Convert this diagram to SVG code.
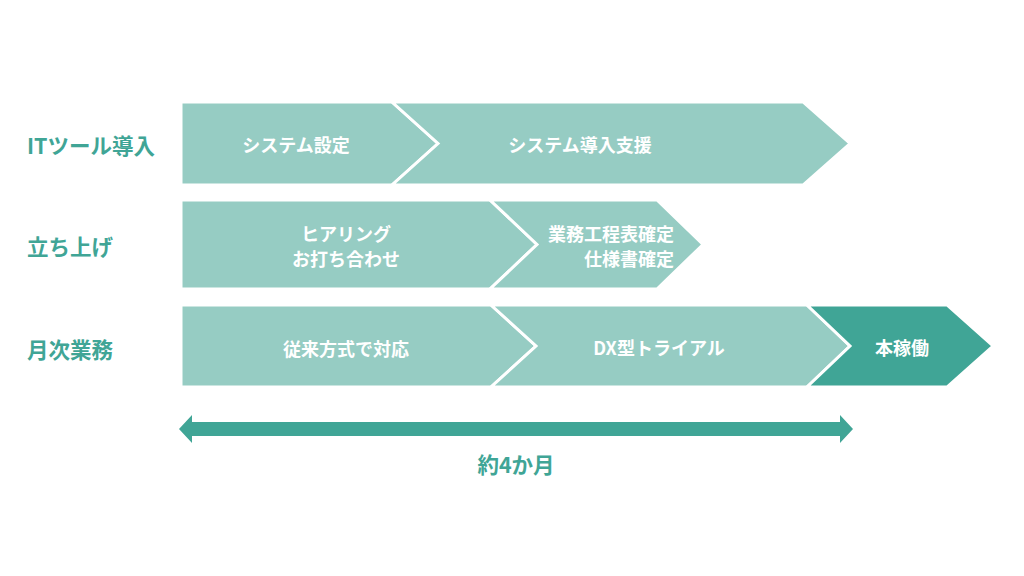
<svg xmlns="http://www.w3.org/2000/svg" width="1024" height="576" viewBox="0 0 1024 576">
<style>
.lt{fill:#96ccc3;stroke:#ffffff;stroke-width:3;stroke-linejoin:miter}
.dk{fill:#40a596;stroke:#ffffff;stroke-width:3;stroke-linejoin:miter}
.in{font-family:"Noto Sans CJK JP","Noto Sans",sans-serif;font-size:18px;font-weight:700;fill:#ffffff;dominant-baseline:central}
.lb{font-family:"Noto Sans CJK JP","Noto Sans",sans-serif;font-size:21.5px;font-weight:700;fill:#40a596;dominant-baseline:central}
</style>
<rect width="1024" height="576" fill="#ffffff"/>
<g id="labels">
<text class="lb" x="27" y="144">ITツール導入</text>
<text class="lb" x="27" y="245">立ち上げ</text>
<text class="lb" x="27" y="348">月次業務</text>
</g>
<g id="node-system-settei">
<polygon class="lt" points="181,102 392,102 438,143.5 392,185 181,185"/>
<text class="in" x="296" y="144" text-anchor="middle">システム設定</text>
</g>
<g id="node-system-dounyu">
<polygon class="lt" points="392,102 803,102 850,143.5 803,185 392,185 438,143.5"/>
<text class="in" x="580" y="144" text-anchor="middle">システム導入支援</text>
</g>
<g id="node-hearing">
<polygon class="lt" points="181,200 490,200 537,244.5 490,289 181,289"/>
<text class="in" x="346" y="233" text-anchor="middle">ヒアリング</text>
<text class="in" x="346" y="258" text-anchor="middle">お打ち合わせ</text>
</g>
<g id="node-koutei">
<polygon class="lt" points="490,200 657,200 703,244.5 657,289 490,289 537,244.5"/>
<text class="in" x="674" y="233" text-anchor="end">業務工程表確定</text>
<text class="in" x="674" y="258" text-anchor="end">仕様書確定</text>
</g>
<g id="node-juurai">
<polygon class="lt" points="181,305 491,305 536,346 491,387 181,387"/>
<text class="in" x="346" y="348" text-anchor="middle">従来方式で対応</text>
</g>
<g id="node-dx">
<polygon class="lt" points="491,305 807,305 850,346 807,387 491,387 536,346"/>
<text class="in" x="659" y="347" text-anchor="middle">DX型トライアル</text>
</g>
<g id="node-honkadou">
<polygon class="dk" points="807,305 947,305 993,346 947,387 807,387 850,346"/>
<text class="in" x="902" y="347" text-anchor="middle">本稼働</text>
</g>
<g id="connectors">
<polygon fill="#40a596" points="179,429 192,415 192,422 840,422 840,415 853,429 840,443 840,436 192,436 192,443"/>
<text class="lb" x="516" y="463" text-anchor="middle">約4か月</text>
</g>
</svg>
